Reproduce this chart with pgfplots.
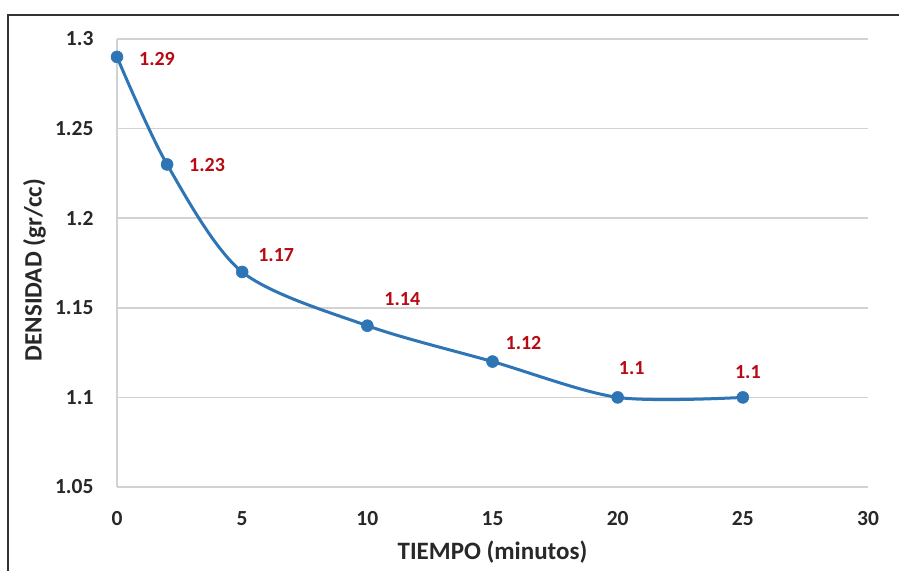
\documentclass[border=0pt]{standalone}
\usepackage{pgfplots}
\pgfplotsset{compat=1.18}
\usepackage{pgfplotstable}
\usepackage{fontspec}
\setmainfont{Carlito}
\definecolor{lineblue}{RGB}{46,117,182}
\definecolor{lblred}{RGB}{185,10,20}
\definecolor{gridgray}{RGB}{210,210,210}
\definecolor{txt}{RGB}{40,40,40}

\pgfplotstableread{
x y lab dx dy
0 1.29 1.29 40 -2
2 1.23 1.23 40 -1
5 1.17 1.17 34 17
10 1.14 1.14 35 27
15 1.12 1.12 31 19
20 1.10 1.1 14 29
25 1.10 1.1 5 25
}\datatable

\begin{document}
\begin{tikzpicture}
\useasboundingbox (0,0) rectangle (899pt,570pt);
\fill[white] (0,0) rectangle (899pt,570pt);
\draw[line width=2.5pt, black!80] (8pt,-5pt) -- (8pt,555pt) -- (905pt,555pt);
\begin{axis}[
  at={(117pt,83pt)}, anchor=south west,
  width=751pt, height=448pt, scale only axis,
  xmin=0, xmax=30, ymin=1.05, ymax=1.3,
  xtick={0,5,10,15,20,25,30},
  ytick={1.05,1.1,1.15,1.2,1.25,1.3},
  yticklabels={1.05,1.1,1.15,1.2,1.25,1.3},
  axis lines=left,
  axis line style={gridgray, line width=1.5pt, -},
  major tick length=0pt,
  ymajorgrids,
  grid style={gridgray, line width=1.5pt},
  /pgf/number format/assume math mode=true,
  tick label style={font=\bfseries\fontsize{21.5}{25}\selectfont, text=txt},
  xticklabel style={yshift=-21pt},
  yticklabel style={xshift=-20pt},
  xlabel={TIEMPO (minutos)},
  ylabel={DENSIDAD (gr/cc)},
  label style={font=\bfseries\fontsize{25}{29}\selectfont, text=txt},
  xlabel style={at={(axis description cs:0.5,-0.145)}, anchor=center},
  ylabel style={at={(axis description cs:-0.11,0.484)}, anchor=center},
  clip=false,
]
\addplot[lineblue, line width=3pt, smooth, tension=0.5,
  mark=*, mark size=6pt, mark options={solid, fill=lineblue, draw=lineblue, line width=0.5pt},
  nodes near coords, point meta=explicit symbolic,
  visualization depends on={\thisrow{dx} \as \dx},
  visualization depends on={\thisrow{dy} \as \dy},
  every node near coord/.append style={anchor=center, xshift=\dx pt, yshift=\dy pt,
    font=\bfseries\fontsize{20}{24}\selectfont, text=lblred},
] table[x=x, y=y, meta=lab] {\datatable};
\end{axis}
\end{tikzpicture}
\end{document}
